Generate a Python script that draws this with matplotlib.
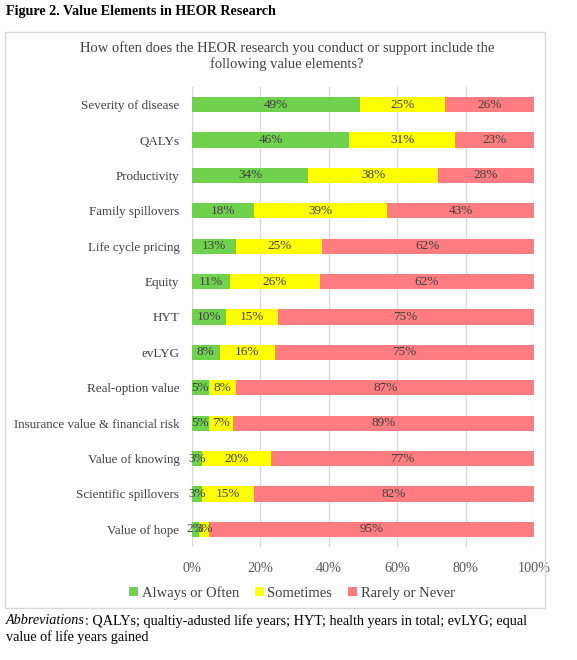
import matplotlib.pyplot as plt
from matplotlib.patches import Rectangle
from matplotlib.ticker import PercentFormatter

plt.rcParams['font.family'] = ['Liberation Serif', 'DejaVu Serif']

categories = ['Severity of disease', 'QALYs', 'Productivity', 'Family spillovers',
              'Life cycle pricing', 'Equity', 'HYT', 'evLYG', 'Real-option value',
              'Insurance value & financial risk', 'Value of knowing',
              'Scientific spillovers', 'Value of hope']
always = [49, 46, 34, 18, 13, 11, 10, 8, 5, 5, 3, 3, 2]
sometimes = [25, 31, 38, 39, 25, 26, 15, 16, 8, 7, 20, 15, 3]
rarely = [26, 23, 28, 43, 62, 62, 75, 75, 87, 89, 77, 82, 95]

series = [('Always or Often', always, '#70D14E'),
          ('Sometimes', sometimes, '#FFFF00'),
          ('Rarely or Never', rarely, '#FF7C80')]

# 100% stacked: each row is scaled to its own total
totals = [a + s + r for a, s, r in zip(always, sometimes, rarely)]

fig = plt.figure(figsize=(5.77, 6.6), dpi=100)

# outer chart frame
fig.patches.append(Rectangle((5 / 577, 1 - 608 / 660), 540 / 577, 576 / 660,
                             transform=fig.transFigure, fill=False,
                             edgecolor='#D9D9D9', linewidth=1))

fig.text(6 / 577, 1 - 12 / 660, 'Figure 2. Value Elements in HEOR Research',
         fontsize=10.2, fontweight='bold', va='center', ha='left')
fig.text(287 / 577, 1 - 56 / 660,
         'How often does the HEOR research you conduct or support include the\nfollowing value elements?',
         fontsize=10.5, color='#404040', ha='center', va='center', linespacing=1.2)

ax = fig.add_axes([192 / 577, 1 - 547 / 660, 342 / 577, 460 / 660])
y = list(range(len(categories)))
left = [0] * len(categories)
for name, vals, color in series:
    frac = [v / t for v, t in zip(vals, totals)]
    bars = ax.barh(y, frac, left=left, height=0.43, color=color, label=name, zorder=2)
    for b, v in zip(bars, vals):
        ax.text(b.get_x() + b.get_width() / 2, b.get_y() + b.get_height() / 2,
                f'{v}%', ha='center', va='center', fontsize=9.5, color='#404040', zorder=3)
    left = [l + f for l, f in zip(left, frac)]

ax.set_xlim(0, 1)
ax.set_ylim(len(categories) - 0.5, -0.5)
ax.set_yticks(y)
ax.set_yticklabels(categories, fontsize=9.4, color='#404040')
ax.set_xticks([0, 0.2, 0.4, 0.6, 0.8, 1.0])
ax.xaxis.set_major_formatter(PercentFormatter(1.0, decimals=0))
ax.tick_params(axis='x', labelsize=10.2, colors='#595959', length=0, pad=11)
ax.tick_params(axis='y', length=0, pad=9)
ax.grid(axis='x', color='#D9D9D9', linewidth=1, zorder=0)
for s in ax.spines.values():
    s.set_visible(False)

ax.legend(loc='center', bbox_to_anchor=(292 / 577, 1 - 593 / 660), bbox_transform=fig.transFigure,
          ncol=3, frameon=False, fontsize=10.5, handlelength=0.6, handleheight=0.6,
          handletextpad=0.25, columnspacing=1.1, labelcolor='#404040')

# footnote: italic word, then the rest placed right after it
abbr = fig.text(6 / 577, 1 - 621 / 660, 'Abbreviations', fontsize=10.2, style='italic',
                va='center', ha='left')
ax.annotate(': QALYs; qualtiy-adusted life years; HYT; health years in total; evLYG; equal',
            xy=(1, 0.5), xycoords=abbr, fontsize=10.2, va='center', ha='left',
            annotation_clip=False)
fig.text(6 / 577, 1 - 637 / 660, 'value of life years gained',
         fontsize=10.2, va='center', ha='left')

fig.savefig('out.png', dpi=100)
